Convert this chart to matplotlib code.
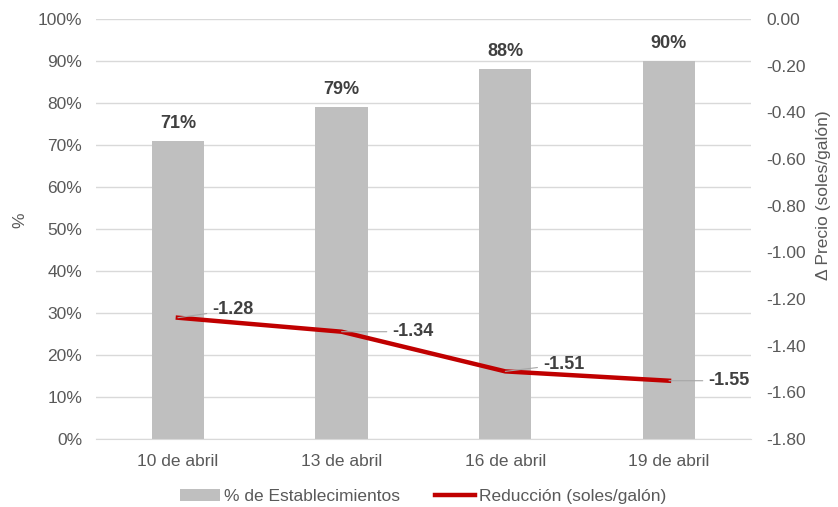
import numpy as np
import matplotlib.pyplot as plt
from matplotlib.patches import Patch
from matplotlib.lines import Line2D

plt.rcParams['font.family'] = ['Liberation Sans', 'DejaVu Sans']

fechas = ['10 de abril', '13 de abril', '16 de abril', '19 de abril']
pct_establecimientos = [71, 79, 88, 90]
reduccion = [-1.28, -1.34, -1.51, -1.55]

bar_color = '#BFBFBF'
line_color = '#C00000'
text_color = '#595959'
label_color = '#404040'
fs = 12.5

fig = plt.figure(figsize=(8.38, 5.07), dpi=100)
ax1 = fig.add_axes([0.1146, 0.134, 0.7814, 0.8285])
ax2 = ax1.twinx()

x = np.arange(len(fechas))
ax1.bar(x, pct_establecimientos, width=0.32, color=bar_color, zorder=2)
ax1.set_ylim(0, 100)
ax1.set_xlim(-0.5, len(fechas) - 0.5)
ax1.set_yticks(np.arange(0, 101, 10))
ax1.set_yticklabels(['{}%'.format(v) for v in range(0, 101, 10)])
ax1.set_xticks(x)
ax1.set_xticklabels(fechas)
ax1.yaxis.grid(True, color='#D9D9D9', linewidth=1, zorder=0)
ax1.set_axisbelow(True)
ax1.tick_params(axis='both', length=0, labelsize=fs, colors=text_color, pad=10)
ax1.tick_params(axis='x', pad=11)
ax1.set_ylabel('%', fontsize=fs, color=text_color)
ax1.yaxis.set_label_coords(-0.105, 0.52)

for xi, v in zip(x, pct_establecimientos):
    ax1.text(xi, v + 2.2, '{}%'.format(v), ha='center', va='bottom',
             fontsize=13, fontweight='bold', color=label_color)

ax2.plot(x, reduccion, color=line_color, linewidth=3.2, zorder=3)
ax2.set_ylim(-1.8, 0)
ax2.set_yticks(np.arange(-1.8, 0.01, 0.2))
ax2.set_yticklabels(['{:.2f}'.format(v) if abs(v) > 1e-9 else '0.00'
                     for v in np.arange(-1.8, 0.01, 0.2)])
ax2.tick_params(axis='y', length=0, labelsize=fs, colors=text_color, pad=11)
ax2.set_ylabel('\u0394 Precio (soles/gal\u00f3n)', fontsize=fs, color=text_color)
ax2.yaxis.set_label_coords(1.1, 0.58)

# label offsets in data units (x, y)
offsets = [(0.21, 0.034), (0.31, 0.0), (0.23, 0.03), (0.24, 0.0)]
for xi, v, (dx, dy) in zip(x, reduccion, offsets):
    ax2.annotate('{:.2f}'.format(v), xy=(xi, v), xytext=(xi + dx, v + dy),
                 ha='left', va='center', fontsize=13, fontweight='bold',
                 color=label_color,
                 arrowprops=dict(arrowstyle='-', color='#A6A6A6', lw=0.8,
                                 shrinkA=2, shrinkB=0))

for ax in (ax1, ax2):
    for s in ax.spines.values():
        s.set_visible(False)
ax1.spines['bottom'].set_visible(True)
ax1.spines['bottom'].set_color('#D9D9D9')

handles = [Patch(facecolor=bar_color, edgecolor='none'),
           Line2D([0], [0], color=line_color, linewidth=3.2)]
fig.legend(handles, ['% de Establecimientos', 'Reducci\u00f3n (soles/gal\u00f3n)'],
           loc='lower center', bbox_to_anchor=(0.505, -0.025), ncol=2, frameon=False,
           fontsize=fs, labelcolor=text_color, handlelength=2.3,
           handletextpad=0.25, columnspacing=2.0)

fig.savefig('out.png', dpi=100)
